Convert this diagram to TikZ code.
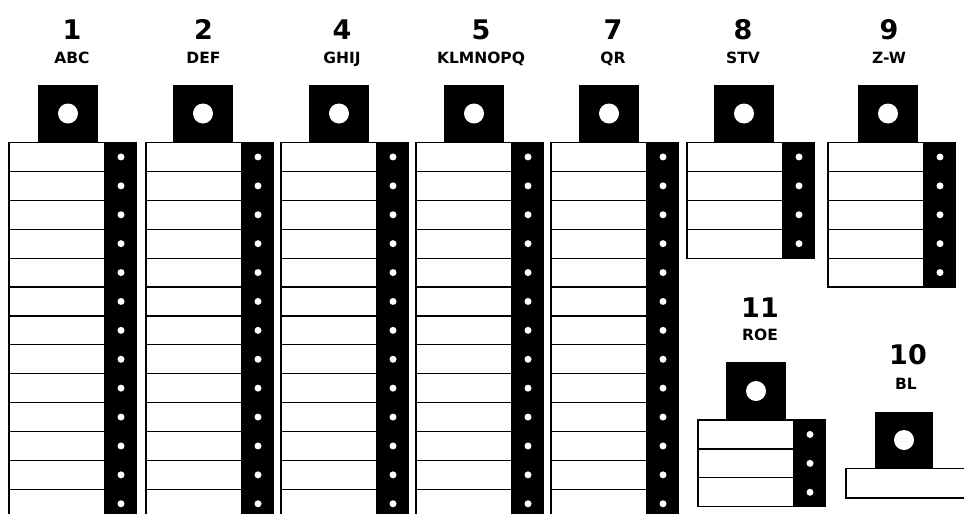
\documentclass[tikz,border=0pt]{standalone}
\usepackage{fontspec}
\setmainfont{DejaVu Sans}
\newcommand\rowh{28.9}
\newcommand\panelunit[4]{%
  % #1 box left x, #2 square left x, #3 top of rows, #4 number of rows
  \fill[black] (#2,{#3-58}) rectangle ({#2+60},#3);
  \fill[white] ({#2+30},{#3-29}) circle (10pt);
  \fill[black] ({#1+96},#3) rectangle ({#1+127},{#3+#4*\rowh});
  \foreach \i in {1,...,#4}{
    \draw[cellline] (#1,{#3+(\i-1)*\rowh}) rectangle ({#1+96},{#3+\i*\rowh});
    \fill[white] ({#1+112},{#3+(\i-0.5)*\rowh}) circle (3.5pt);
  }
  \draw[outline] (#1,#3) rectangle ({#1+127},{#3+#4*\rowh});
}
\begin{document}
\begin{tikzpicture}[x=1pt,y=-1pt,
  cellline/.style={draw=black,fill=white,line width=1.2pt},
  outline/.style={draw=black,line width=1.2pt},
  numtext/.style={anchor=base,inner sep=0pt,font=\fontsize{27}{30}\selectfont\bfseries},
  nametext/.style={anchor=base,inner sep=0pt,font=\fontsize{15.5}{17}\selectfont\bfseries}]
\useasboundingbox (0,0) rectangle (964,514);
\fill[white] (0,0) rectangle (964,514);
% tall panels
\panelunit{9}{38}{142.5}{13}
\panelunit{146}{173}{142.5}{13}
\panelunit{281}{309}{142.5}{13}
\panelunit{416}{444}{142.5}{13}
\panelunit{551}{579}{142.5}{13}
\panelunit{687}{714}{142.5}{4}
\panelunit{828}{858}{142.5}{5}
\panelunit{698}{726}{420}{3}
% BL unit
\draw[cellline] (846,468.5) rectangle (990,498);
\fill[black] (875,412) rectangle (933,468.5);
\fill[white] (904,440) circle (10pt);
% labels
\node[numtext] (n1) at (72,39) {1};
\node[nametext] (l1) at (72,63) {ABC};
\node[numtext] (n2) at (203.5,39) {2};
\node[nametext] (l2) at (203.5,63) {DEF};
\node[numtext] (n4) at (342,39) {4};
\node[nametext] (l4) at (342,63) {GHIJ};
\node[numtext] (n5) at (481,39) {5};
\node[nametext] (l5) at (481,63) {KLMNOPQ};
\node[numtext] (n7) at (613,39) {7};
\node[nametext] (l7) at (613,63) {QR};
\node[numtext] (n8) at (743,39) {8};
\node[nametext] (l8) at (743,63) {STV};
\node[numtext] (n9) at (889,39) {9};
\node[nametext] (l9) at (889,63) {Z-W};
\node[numtext] (n11) at (760,317) {11};
\node[nametext] (l11) at (760,340) {ROE};
\node[numtext] (n10) at (908,364) {10};
\node[nametext] (l10) at (906,389) {BL};
\end{tikzpicture}
\end{document}
